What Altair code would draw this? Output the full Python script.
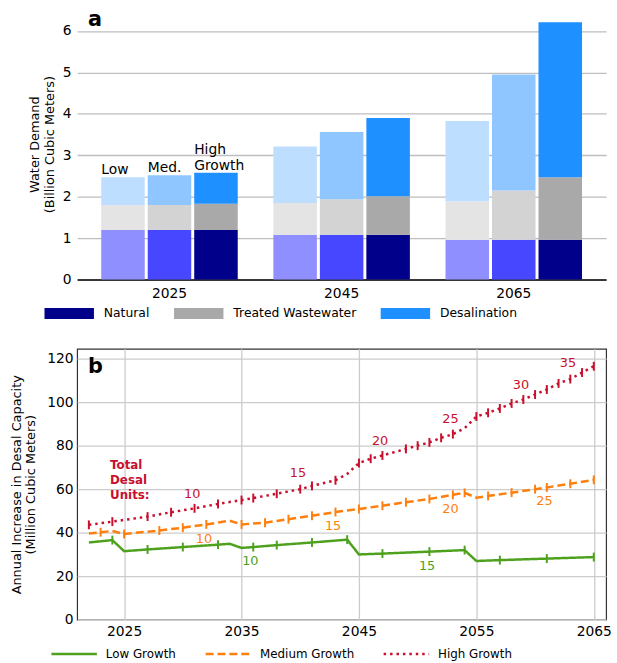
import altair as alt
import pandas as pd

FONT = "DejaVu Sans"

# ---------------- panel a: water demand by source ----------------
demand_years = ["2025", "2045", "2065"]
scenarios = ["Low", "Med.", "High"]
sources = ["Natural", "Treated Wastewater", "Desalination"]

# stacked segment heights (billion m3), one value per year
natural_low = [1.20, 1.08, 0.96]
natural_med = [1.20, 1.08, 0.96]
natural_high = [1.20, 1.08, 0.96]
tww_low = [0.60, 0.77, 0.93]
tww_med = [0.60, 0.86, 1.19]
tww_high = [0.63, 0.93, 1.51]
desal_low = [0.67, 1.36, 1.94]
desal_med = [0.72, 1.62, 2.80]
desal_high = [0.75, 1.89, 3.74]

segments = {
    ("Natural", "Low"): natural_low,
    ("Natural", "Med."): natural_med,
    ("Natural", "High"): natural_high,
    ("Treated Wastewater", "Low"): tww_low,
    ("Treated Wastewater", "Med."): tww_med,
    ("Treated Wastewater", "High"): tww_high,
    ("Desalination", "Low"): desal_low,
    ("Desalination", "Med."): desal_med,
    ("Desalination", "High"): desal_high,
}

shade = {
    ("Natural", "Low"): "#8F8FFF",
    ("Natural", "Med."): "#4747FF",
    ("Natural", "High"): "#00008B",
    ("Treated Wastewater", "Low"): "#E4E4E4",
    ("Treated Wastewater", "Med."): "#D3D3D3",
    ("Treated Wastewater", "High"): "#A9A9A9",
    ("Desalination", "Low"): "#BDDEFF",
    ("Desalination", "Med."): "#8FC6FF",
    ("Desalination", "High"): "#1E90FF",
}

def key(src, scn):
    return src if scn == "High" else f"{src} ({scn})"

rows = []
for i, yr in enumerate(demand_years):
    for scn in scenarios:
        for k, src in enumerate(sources):
            rows.append({"year": yr, "scenario": scn, "source": src,
                         "key": key(src, scn), "order": k,
                         "value": segments[(src, scn)][i]})
demand = pd.DataFrame(rows)

color_domain = [key(s, c) for s in sources for c in scenarios]
color_range = [shade[(s, c)] for s in sources for c in scenarios]

# scenario names are written over the first group of bars only
totals = demand.groupby(["year", "scenario"], as_index=False)["value"].sum()
totals = totals[totals["year"] == demand_years[0]]
bottom_line = {"Low": "Low", "Med.": "Med.", "High": "Growth"}
totals["label"] = totals["scenario"].map(bottom_line)

x_a = alt.X("year:N", title=None,
            scale=alt.Scale(paddingInner=0.207, paddingOuter=0.14),
            axis=alt.Axis(labelAngle=0, ticks=False, domain=True, domainColor="black",
                          domainWidth=1.5, labelPadding=7, labelFontSize=14, grid=False))
xo_a = alt.XOffset("scenario:N", scale=alt.Scale(domain=scenarios, paddingInner=0.064, paddingOuter=0))
y_a_scale = alt.Scale(domain=[0, 6.54], nice=False)

bars = alt.Chart(demand).mark_bar().encode(
    x=x_a,
    xOffset=xo_a,
    y=alt.Y("value:Q", stack="zero", scale=y_a_scale,
            axis=alt.Axis(values=[0, 1, 2, 3, 4, 5, 6], grid=True, gridColor="#BEBEBE",
                          gridWidth=1.3, domain=False, ticks=False, labelPadding=6,
                          labelFontSize=14, titleFontSize=13, titleFontWeight="normal",
                          titlePadding=6,
                          title=["Water Demand", "(Billion Cubic Meters)"])),
    order=alt.Order("order:Q"),
    color=alt.Color("key:N", scale=alt.Scale(domain=color_domain, range=color_range),
                    legend=alt.Legend(values=sources, title=None, orient="none",
                                      direction="horizontal", legendX=-33, legendY=297,
                                      symbolType="M-1,-0.5H3.545V0.5H-1Z", symbolSize=484,
                                      symbolStrokeWidth=0, labelOffset=38, columnPadding=24,
                                      labelFontSize=12.5, padding=0, symbolOpacity=1)),
)

bar_labels = alt.Chart(totals).mark_text(align="left", baseline="alphabetic", dx=-22, dy=-3,
                                         fontSize=14, font=FONT, color="black").encode(
    x=x_a, xOffset=xo_a, y=alt.Y("value:Q", scale=y_a_scale), text="label:N")

high_top = alt.Chart(totals[totals["scenario"] == "High"].assign(top="High")).mark_text(
    align="left", baseline="alphabetic", dx=-22, dy=-19, fontSize=14, font=FONT,
    color="black").encode(x=x_a, xOffset=xo_a, y=alt.Y("value:Q", scale=y_a_scale), text="top:N")

tag_a = alt.Chart(pd.DataFrame({"t": ["a"]})).mark_text(
    align="left", baseline="alphabetic", fontSize=21, fontWeight="bold", font=FONT,
    color="black").encode(x=alt.value(11), y=alt.value(18), text="t:N")

panel_a = alt.layer(bars, bar_labels, high_top, tag_a).properties(
    width=535, height=274, view=alt.ViewBackground(stroke=None))

# ---------------- panel b: yearly desalination capacity additions ----------------
growth = ["Low Growth", "Medium Growth", "High Growth"]
growth_colors = ["#4DA11D", "#FF7F0E", "#C8102E"]

low_years = [2022, 2024, 2025, 2027, 2030, 2033, 2034, 2035, 2036, 2038, 2041, 2044,
             2045, 2047, 2051, 2054, 2055, 2057, 2061, 2065]
low_vals = [35.5, 36.6, 31.5, 32.3, 33.4, 34.5, 34.9, 33.0, 33.4, 34.3, 35.5, 36.8,
            30.0, 30.4, 31.3, 32.0, 27.0, 27.4, 28.1, 28.8]
low_unit = [0, 1, 0, 1, 1, 1, 0, 0, 1, 1, 1, 1, 0, 1, 1, 1, 0, 1, 1, 1]

med_years = [2022, 2023, 2024, 2025, 2028, 2030, 2032, 2034, 2035, 2037, 2039, 2041, 2043,
             2045, 2047, 2049, 2051, 2053, 2054, 2055, 2056, 2058, 2060, 2061, 2063, 2065]
med_vals = [39.6, 40.2, 40.8, 39.4, 41.0, 42.3, 43.8, 45.5, 43.8, 44.6, 46.2, 47.8, 49.5,
            50.9, 52.4, 54.0, 55.5, 57.4, 58.3, 56.1, 56.9, 58.4, 60.0, 60.8, 62.5, 64.3]
med_unit = [0, 1, 0, 1, 1, 1, 1, 0, 1, 1, 1, 1, 1, 1, 1, 1, 1, 1, 1, 0, 1, 1, 1, 1, 1, 1]

high_years = [2022, 2024, 2027, 2029, 2031, 2033, 2035, 2036, 2038, 2040, 2041, 2043, 2044,
              2045, 2046, 2047, 2049, 2050, 2051, 2052, 2053, 2054, 2055, 2056, 2057, 2058,
              2059, 2060, 2061, 2062, 2063, 2064, 2065]
high_vals = [43.6, 45.1, 47.4, 49.4, 51.2, 53.2, 55.0, 55.9, 57.9, 60.0, 61.5, 64.1, 67.0,
             72.0, 74.0, 75.5, 78.5, 80.0, 81.5, 83.6, 85.3, 88.0, 93.4, 95.1, 97.1, 99.4,
             101.2, 103.5, 105.8, 108.6, 110.6, 113.6, 116.5]
high_unit = [1, 1, 1, 1, 1, 1, 1, 1, 1, 1, 1, 1, 0, 1, 1, 1, 1, 1, 1, 1, 1, 0, 1, 1, 1, 1,
             1, 1, 1, 1, 1, 1, 1]

# unit-count annotations along each curve
low_lab_year = [2035.75, 2050.8]
low_lab_val = [27.0, 24.7]
low_lab_text = ["10", "15"]
med_lab_year = [2031.8, 2042.8, 2052.8, 2060.8]
med_lab_val = [37.3, 42.9, 50.9, 54.5]
med_lab_text = ["10", "15", "20", "25"]
high_lab_year = [2030.8, 2039.8, 2046.8, 2052.8, 2058.8, 2062.8]
high_lab_val = [57.7, 67.3, 82.3, 92.1, 108.0, 117.9]
high_lab_text = ["10", "15", "20", "25", "30", "35"]

series = [("Low Growth", low_years, low_vals, low_unit),
          ("Medium Growth", med_years, med_vals, med_unit),
          ("High Growth", high_years, high_vals, high_unit)]
capacity = pd.concat([pd.DataFrame({"growth": g, "year": ys, "capacity": vs, "unit": us})
                      for g, ys, vs, us in series], ignore_index=True)

labels = pd.concat([
    pd.DataFrame({"growth": "Low Growth", "year": low_lab_year, "capacity": low_lab_val, "text": low_lab_text}),
    pd.DataFrame({"growth": "Medium Growth", "year": med_lab_year, "capacity": med_lab_val, "text": med_lab_text}),
    pd.DataFrame({"growth": "High Growth", "year": high_lab_year, "capacity": high_lab_val, "text": high_lab_text}),
], ignore_index=True)

x_b = alt.X("year:Q", title=None, scale=alt.Scale(domain=[2021, 2066.05], nice=False, zero=False),
            axis=alt.Axis(values=[2025, 2035, 2045, 2055, 2065], format="d", grid=True,
                          gridColor="#CCCCCC", gridWidth=1.3, domain=False, ticks=False,
                          labelPadding=5, labelFontSize=14))
y_b_scale = alt.Scale(domain=[0, 124.5], nice=False)
y_b = alt.Y("capacity:Q", scale=y_b_scale,
            axis=alt.Axis(values=[0, 20, 40, 60, 80, 100, 120], grid=True, gridColor="#CCCCCC",
                          gridWidth=1.3, domain=False, ticks=False, labelPadding=4,
                          labelFontSize=14, titleFontSize=13, titleFontWeight="normal",
                          titlePadding=9,
                          title=["Annual Increase in Desal Capacity", "(Million Cubic Meters)"]))

legend_b = dict(title=None, orient="none", direction="horizontal", legendX=-27.5, legendY=296,
                symbolType="M-1,0H3.18", symbolSize=484, symbolStrokeWidth=2.5,
                labelOffset=31.5, columnPadding=24, labelFontSize=12, padding=0)

lines = alt.Chart(capacity).mark_line(strokeWidth=2.5).encode(
    x=x_b, y=y_b,
    color=alt.Color("growth:N", scale=alt.Scale(domain=growth, range=growth_colors),
                    legend=alt.Legend(**legend_b)),
    strokeDash=alt.StrokeDash("growth:N",
                              scale=alt.Scale(domain=growth, range=[[1, 0], [8, 4], [2.5, 4]]),
                              legend=alt.Legend(**legend_b)),
)

unit_marks = alt.Chart(capacity).transform_filter("datum.unit == 1").mark_point(
    shape="M0,-1V1", size=81, strokeWidth=2, filled=False, opacity=1).encode(
    x=x_b, y=y_b,
    stroke=alt.Stroke("growth:N", scale=alt.Scale(domain=growth, range=growth_colors), legend=None))

count_text = alt.Chart(labels).mark_text(fontSize=13, font=FONT, baseline="middle").encode(
    x=x_b, y=y_b, text="text:N",
    fill=alt.Fill("growth:N", scale=alt.Scale(domain=growth, range=growth_colors), legend=None))

units_title = alt.Chart(pd.DataFrame({"year": [2023.8], "capacity": [70.9],
                                      "t": ["Total\nDesal\nUnits:"]})).mark_text(
    align="left", baseline="middle", fontSize=12, fontWeight="bold", font=FONT,
    color="#C8102E", lineBreak="\n", lineHeight=15).encode(x=x_b, y=y_b, text="t:N")

tag_b = alt.Chart(pd.DataFrame({"t": ["b"]})).mark_text(
    align="left", baseline="alphabetic", fontSize=21, fontWeight="bold", font=FONT,
    color="black").encode(x=alt.value(11), y=alt.value(24), text="t:N")

panel_b = alt.layer(lines, unit_marks, count_text, units_title, tag_b).properties(
    width=535, height=274, view=alt.ViewBackground(stroke="#333333", strokeWidth=1.2))

chart = alt.vconcat(panel_a, panel_b, spacing=28).resolve_scale(
    color="independent", strokeDash="independent", fill="independent", stroke="independent"
).resolve_legend(color="independent").properties(
    padding={"left": 9, "top": 5, "right": 5, "bottom": 0}
).configure(font=FONT).configure_axis(
    labelColor="black", titleColor="black", labelFont=FONT, titleFont=FONT
).configure_legend(labelFont=FONT, labelColor="black")

chart.save("out.html", embed_options={"renderer": "svg", "actions": False})
